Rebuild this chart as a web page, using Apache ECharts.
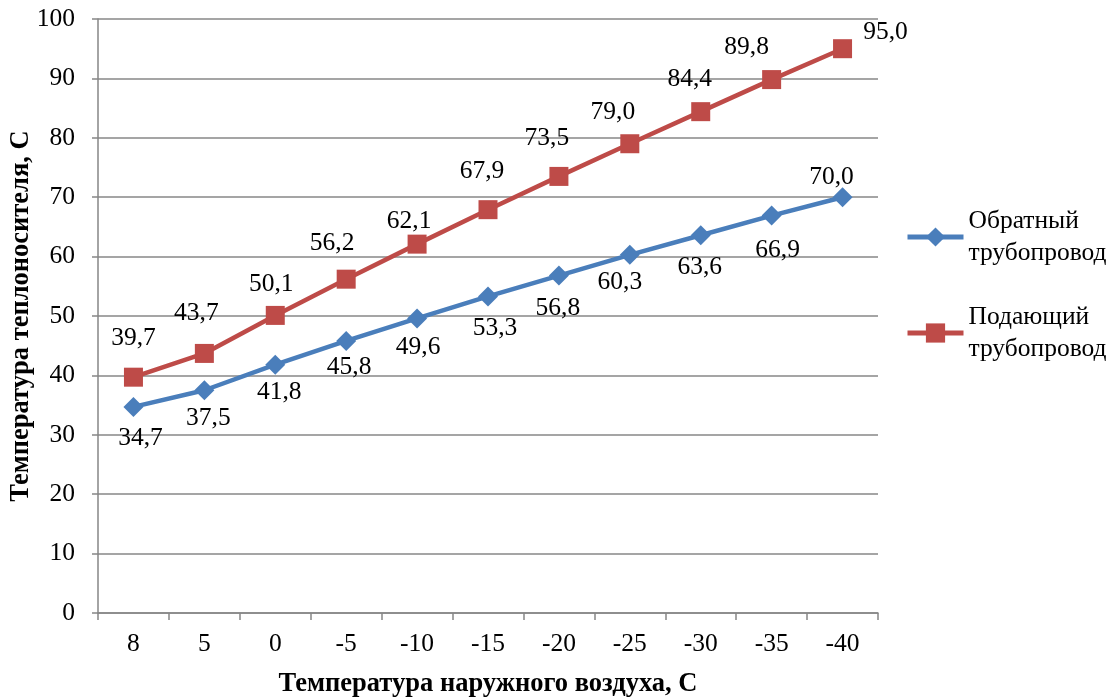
<!DOCTYPE html>
<html>
<head>
<meta charset="utf-8">
<script src="https://cdn.jsdelivr.net/npm/echarts@6/dist/echarts.min.js"></script>
<style>
  html, body { margin: 0; padding: 0; background: #fff; }
  #chart { width: 1119px; height: 700px; }
</style>
</head>
<body>
<div id="chart"></div>
<script>
// Outdoor air temperature, °C (category axis)
const categories = ['8', '5', '0', '-5', '-10', '-15', '-20', '-25', '-30', '-35', '-40'];
// Return pipeline temperature
const returnLine = [34.7, 37.5, 41.8, 45.8, 49.6, 53.3, 56.8, 60.3, 63.6, 66.9, 70.0];
// Supply pipeline temperature
const supplyLine = [39.7, 43.7, 50.1, 56.2, 62.1, 67.9, 73.5, 79.0, 84.4, 89.8, 95.0];
const yTicks = [0, 10, 20, 30, 40, 50, 60, 70, 80, 90, 100];

// Label placement relative to each marker, in pixels
const returnLabelShift = [[7, 31], [4, 28], [4, 28], [3, 26], [1, 29], [7, 32], [-1, 33], [-10, 27], [-1, 32], [6, 35], [-11, -20]];
const supplyLabelShift = [[0, -39], [-8, -40], [-4, -31], [-14, -36], [-8, -23], [-6, -38], [-12, -38], [-17, -31], [-11, -32], [-25, -32], [43, -16]];

const FONT = 'Liberation Serif';
const BASE_SIZE = 25.5;
const fmt = v => v.toFixed(1).replace('.', ',');

function seriesData(values, shifts) {
  return values.map((v, i) => ({
    value: v,
    label: { offset: shifts[i] }
  }));
}

const chart = echarts.init(document.getElementById('chart'), null, { renderer: 'canvas' });

const labelStyle = {
  show: true,
  position: 'inside',
  fontFamily: FONT,
  fontSize: BASE_SIZE,
  color: '#000',
  formatter: p => fmt(p.value)
};

const titleStyle = { fontFamily: FONT, fontSize: 26.5, fontWeight: 'bold', color: '#000' };

chart.setOption({
  animation: false,
  backgroundColor: '#fff',
  grid: { left: 98, right: 241, top: 19, bottom: 87, containLabel: false, outerBoundsMode: 'none' },
  legend: {
    orient: 'vertical',
    left: 905,
    top: 189,
    padding: 0,
    itemGap: 0,
    itemWidth: 56,
    itemHeight: 24,
    selectedMode: false,
    lineStyle: { width: 5 },
    formatter: name => name.replace(' ', '\n'),
    textStyle: {
      fontFamily: FONT,
      fontSize: BASE_SIZE,
      color: '#000',
      lineHeight: 32,
      padding: [32, 0, 0, 0]
    },
    data: ['Обратный трубопровод', 'Подающий трубопровод']
  },
  xAxis: {
    type: 'category',
    data: categories,
    boundaryGap: true,
    name: 'Температура наружного воздуха, С',
    nameLocation: 'middle',
    nameGap: 58,
    nameMoveOverlap: false,
    nameTextStyle: titleStyle,
    axisLine: { lineStyle: { color: '#868686', width: 1.5 } },
    axisTick: { show: true, alignWithLabel: false, length: 7, lineStyle: { color: '#868686', width: 1.5 } },
    axisLabel: { fontFamily: FONT, fontSize: BASE_SIZE, color: '#000', margin: 18 },
    splitLine: { show: false }
  },
  yAxis: {
    type: 'value',
    min: yTicks[0],
    max: yTicks[yTicks.length - 1],
    interval: yTicks[1] - yTicks[0],
    name: 'Температура теплоносителя, С',
    nameLocation: 'middle',
    nameRotate: 90,
    nameGap: 63,
    nameMoveOverlap: false,
    nameTextStyle: titleStyle,
    axisLine: { show: true, lineStyle: { color: '#868686', width: 1.5 } },
    axisTick: { show: true, length: 6, lineStyle: { color: '#868686', width: 1.5 } },
    axisLabel: { fontFamily: FONT, fontSize: BASE_SIZE, color: '#000', margin: 23 },
    splitLine: { show: true, lineStyle: { color: '#878787', width: 1.5 } }
  },
  series: [
    {
      name: 'Обратный трубопровод',
      type: 'line',
      data: seriesData(returnLine, returnLabelShift),
      symbol: 'diamond',
      symbolSize: 20,
      lineStyle: { color: '#4A7EBB', width: 4.5 },
      itemStyle: { color: '#4A7EBB' },
      label: labelStyle,
      z: 3
    },
    {
      name: 'Подающий трубопровод',
      type: 'line',
      data: seriesData(supplyLine, supplyLabelShift),
      symbol: 'rect',
      symbolSize: 19,
      lineStyle: { color: '#BE4B48', width: 4.5 },
      itemStyle: { color: '#BE4B48' },
      label: labelStyle,
      z: 3
    }
  ]
});
</script>
</body>
</html>
